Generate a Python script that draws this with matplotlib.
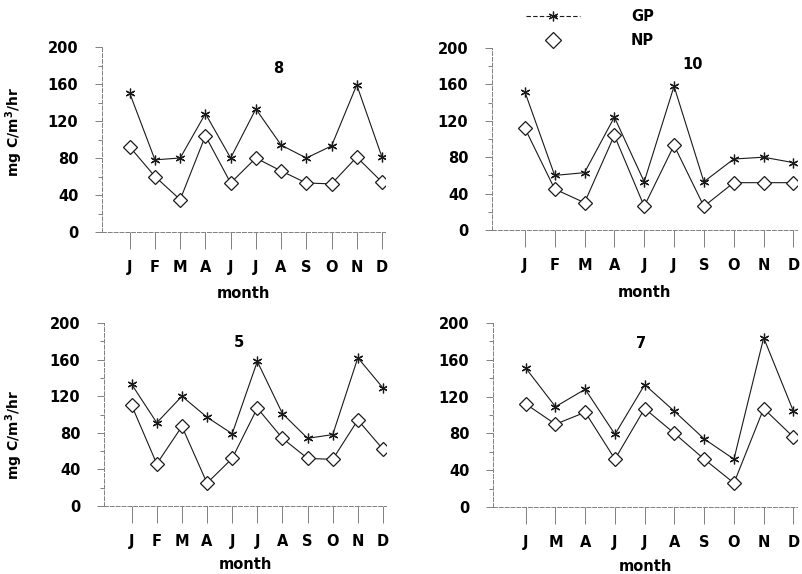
import matplotlib
matplotlib.use('Agg')
import matplotlib.pyplot as plt
from matplotlib.lines import Line2D
from matplotlib.ticker import MultipleLocator

plt.rcParams['font.family'] = 'DejaVu Sans'
plt.rcParams['font.weight'] = 'bold'

# station 8
months_8 = ['J', 'F', 'M', 'A', 'J', 'J', 'A', 'S', 'O', 'N', 'D']
gp_8 = [150, 78, 80, 128, 80, 133, 94, 80, 93, 159, 81]
np_8 = [92, 60, 35, 104, 53, 80, 66, 53, 52, 81, 54]

# station 10
months_10 = ['J', 'F', 'M', 'A', 'J', 'J', 'S', 'O', 'N', 'D']
gp_10 = [152, 60, 63, 124, 53, 158, 53, 78, 80, 74]
np_10 = [112, 45, 30, 104, 26, 93, 26, 52, 52, 52]

# station 5
months_5 = ['J', 'F', 'M', 'A', 'J', 'J', 'A', 'S', 'O', 'N', 'D']
gp_5 = [133, 91, 120, 97, 79, 158, 101, 74, 78, 162, 129]
np_5 = [110, 46, 87, 25, 52, 107, 74, 52, 51, 94, 62]

# station 7
months_7 = ['J', 'M', 'A', 'J', 'J', 'A', 'S', 'O', 'N', 'D']
gp_7 = [151, 109, 128, 79, 133, 104, 74, 52, 184, 104]
np_7 = [112, 90, 103, 52, 107, 80, 52, 26, 107, 76]

W, H = 803, 574
fig = plt.figure(figsize=(W / 100, H / 100), dpi=100)

# (left, right, top, bottom) in pixels, title pos, ylabel pos, xlabel y
panels = [
    ('8', months_8, gp_8, np_8, (102, 385, 47, 232), (0.622, 0.886), (-0.272, 0.54), -0.29),
    ('10', months_10, gp_10, np_10, (492, 797, 48, 230), (0.659, 0.907), None, -0.30),
    ('5', months_5, gp_5, np_5, (104, 386, 323, 506), (0.479, 0.891), (-0.28, 0.39), -0.28),
    ('7', months_7, gp_7, np_7, (493, 797, 323, 507), (0.487, 0.891), None, -0.28),
]

gp_style = dict(color='0.1', lw=0.8, marker=(6, 2, 0), ms=7, mew=0.9, mec='0.1')
np_style = dict(color='0.1', lw=0.8, marker='D', ms=7.5, mfc='white', mec='0.1', mew=0.9)

for name, months, gp, npv, (l, r, t, b), tpos, ylab, xly in panels:
    ax = fig.add_axes([l / W, 1 - b / H, (r - l) / W, (b - t) / H])
    x = list(range(len(months)))
    ax.plot(x, npv, **np_style)
    ax.plot(x, gp, **gp_style)
    ax.set_xlim(-1.1, len(months) - 1 + 0.12)
    ax.set_ylim(0, 200)
    ax.set_xticks(x)
    ax.set_xticklabels(months)
    ax.yaxis.set_major_locator(MultipleLocator(40))
    ax.yaxis.set_minor_locator(MultipleLocator(20))
    for s in ['top', 'right']:
        ax.spines[s].set_visible(False)
    for s in ['left', 'bottom']:
        ax.spines[s].set_color('0.5')
        ax.spines[s].set_linewidth(0.7)
        ax.spines[s].set_linestyle((0, (4, 2)))
    ax.tick_params(axis='x', length=12, width=0.7, color='0.5', pad=8, labelsize=10.5)
    ax.tick_params(axis='y', which='major', length=5, width=0.7, color='0.5', pad=12, labelsize=10.5)
    ax.tick_params(axis='y', which='minor', length=3, width=0.7, color='0.5')
    ax.set_xlabel('month', fontsize=10.5, fontweight='bold')
    ax.xaxis.set_label_coords(0.5, xly)
    if ylab is not None:
        ax.set_ylabel('mg C/m$^\\mathbf{3}$/hr', fontsize=10, fontweight='bold')
        ax.yaxis.set_label_coords(*ylab)
    ax.text(tpos[0], tpos[1], name, transform=ax.transAxes, ha='center', va='center',
            fontsize=10.5, fontweight='bold')

handles = [Line2D([], [], linestyle=(0, (4, 2)), **gp_style),
           Line2D([], [], linestyle='none', marker='D', ms=8, mfc='white', mec='0.1', mew=0.9)]
fig.legend(handles, ['GP', 'NP'], loc='upper left', bbox_to_anchor=(526 / W, 1 - 9 / H),
           frameon=False, borderpad=0, borderaxespad=0, handlelength=3.7, handletextpad=3.5,
           labelspacing=0.6, numpoints=1, prop={'weight': 'bold', 'size': 10.5})

fig.savefig('out.png', dpi=100)
